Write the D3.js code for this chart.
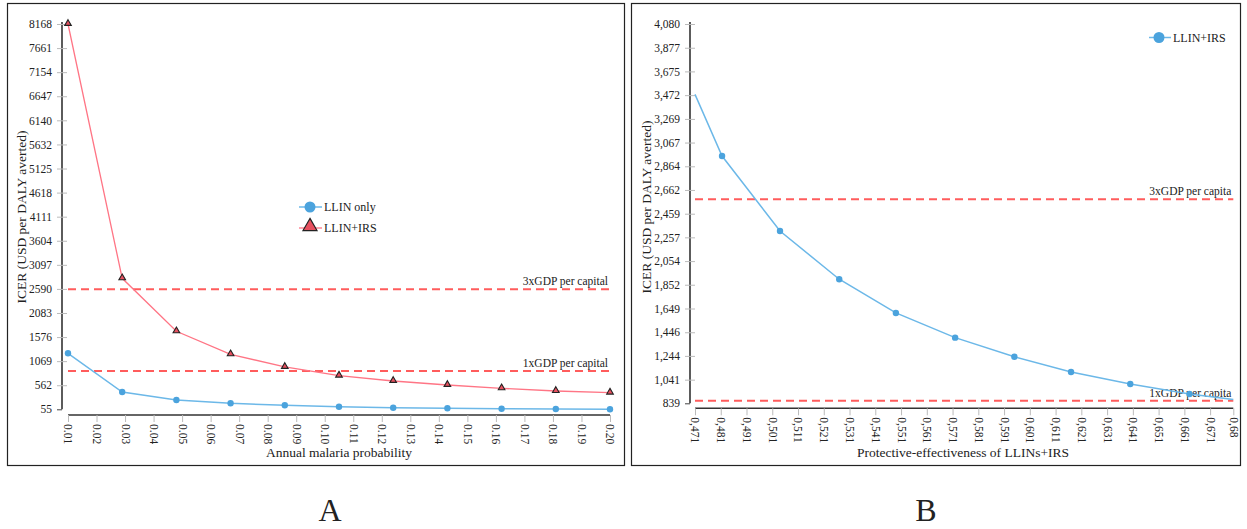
<!DOCTYPE html>
<html lang="en">
<head>
  <meta charset="UTF-8">
  <title>ICER sensitivity</title>
  <script src="https://cdn.jsdelivr.net/npm/d3@7/dist/d3.min.js"></script>
  <style>
    body { margin: 0; background: #fff; }
    text { font-family: "Liberation Serif", "DejaVu Serif", serif; fill: #222; }
  </style>
</head>
<body>
<script>
// panel A data
const probA = [0.01, 0.029, 0.048, 0.067, 0.086, 0.105, 0.124, 0.143, 0.162, 0.181, 0.2];
const llinOnly = [1234, 419, 251, 181, 139, 110, 89, 76, 68, 61, 57];
const llinIrsA = [8168, 2813, 1697, 1213, 946, 763, 651, 567, 497, 440, 405];
const yTicksA = [55, 562, 1069, 1576, 2083, 2590, 3097, 3604, 4111, 4618, 5125, 5632, 6140, 6647, 7154, 7661, 8168];
const xTicksA = [0.01, 0.02, 0.03, 0.04, 0.05, 0.06, 0.07, 0.08, 0.09, 0.10, 0.11, 0.12, 0.13, 0.14, 0.15, 0.16, 0.17, 0.18, 0.19, 0.20];

// panel B data
const effB = [0.471, 0.4815, 0.504, 0.527, 0.549, 0.572, 0.595, 0.617, 0.640, 0.663, 0.68];
const llinIrsB = [3479, 2952, 2311, 1899, 1611, 1400, 1237, 1106, 1004, 918, 872];
const yTicksB = [839, 1041, 1244, 1446, 1649, 1852, 2054, 2257, 2459, 2662, 2864, 3067, 3269, 3472, 3675, 3877, 4080];
const xTicksB = [0.471, 0.481, 0.491, 0.501, 0.511, 0.521, 0.531, 0.541, 0.551, 0.561, 0.571, 0.581, 0.591, 0.601, 0.611, 0.621, 0.631, 0.641, 0.651, 0.661, 0.671, 0.68];

// thresholds
const gdp1x = 861, gdp3x = 2583;

const blue = '#4ba3dd', blueLine = '#6cb8e8', red = '#ff7585', redFill = '#e8505f', dash = '#ff5c5c';

const svg = d3.select('body').append('svg')
  .attr('width', 1247).attr('height', 529);

// frames
svg.append('rect').attr('x', 7.5).attr('y', 3.5).attr('width', 617).attr('height', 462)
  .attr('fill', 'none').attr('stroke', '#222').attr('stroke-width', 1.2);
svg.append('rect').attr('x', 631.5).attr('y', 3.5).attr('width', 609).attr('height', 462)
  .attr('fill', 'none').attr('stroke', '#222').attr('stroke-width', 1.2);

function axes(x, y, xTicks, yTicks, xFmt, yFmt, x0, y0) {
  // y axis, offset left of plot area
  const ya = svg.append('g').attr('transform', `translate(${x0},0)`)
    .call(d3.axisLeft(y).tickValues(yTicks).tickFormat(yFmt).tickSize(5).tickPadding(5));
  ya.select('.domain').attr('stroke', '#333').attr('stroke-width', 1.6)
    .attr('d', `M0,${y.range()[1] - 2}V${y.range()[0]}`);
  ya.selectAll('.tick line').attr('x1', -5).attr('x2', 5).attr('stroke', '#bbb');
  ya.selectAll('.tick line').filter((d, i) => i === 0).attr('stroke', '#444').attr('x2', 0);
  ya.selectAll('.tick text').style('font-size', '11.5px').attr('fill', '#222')
    .style('font-family', '"Liberation Serif", serif');

  // x axis, offset below plot area
  const xa = svg.append('g').attr('transform', `translate(0,${y0})`)
    .call(d3.axisBottom(x).tickValues(xTicks).tickFormat(xFmt).tickSize(7));
  xa.select('.domain').attr('stroke', '#333').attr('stroke-width', 1.6)
    .attr('d', `M${x.range()[0]},0H${x.range()[1]}`);
  xa.selectAll('.tick line').attr('stroke', '#bbb');
  xa.selectAll('.tick text')
    .style('font-size', '11.5px').attr('fill', '#222')
    .style('font-family', '"Liberation Serif", serif')
    .attr('text-anchor', 'start').attr('dy', '0.35em')
    .attr('transform', 'translate(0,9) rotate(90)')
    .attr('x', 0).attr('y', 0);
}

function refLine(x, y, v, label) {
  svg.append('line')
    .attr('x1', x.range()[0]).attr('x2', x.range()[1])
    .attr('y1', y(v)).attr('y2', y(v))
    .attr('stroke', dash).attr('stroke-width', 2).attr('stroke-dasharray', '8,5');
  svg.append('text').attr('x', x.range()[1] - 2).attr('y', y(v) - 4)
    .attr('text-anchor', 'end').style('font-size', '11.5px').text(label);
}

// ---------- panel A ----------
const xA = d3.scaleLinear().domain([0.01, 0.2]).range([68, 610]);
const yA = d3.scaleLinear().domain([55, 8168]).range([409.3, 24]);
axes(xA, yA, xTicksA, yTicksA, d3.format('.2f'), d3.format('d'), 62, 415);

refLine(xA, yA, gdp3x, '3xGDP per capital');
refLine(xA, yA, gdp1x, '1xGDP per capital');

const lineA = (vals) => d3.line().x((d, i) => xA(probA[i])).y(d => yA(d))(vals);
svg.append('path').attr('d', lineA(llinOnly)).attr('fill', 'none')
  .attr('stroke', blueLine).attr('stroke-width', 1.5);
svg.append('path').attr('d', lineA(llinIrsA)).attr('fill', 'none')
  .attr('stroke', red).attr('stroke-width', 1.3);

svg.selectAll('.dotA').data(llinOnly).enter().append('circle')
  .attr('cx', (d, i) => xA(probA[i])).attr('cy', d => yA(d)).attr('r', 3.2)
  .attr('fill', blue);
const tri = d3.symbol().type(d3.symbolTriangle);
svg.selectAll('.triA').data(llinIrsA).enter().append('path')
  .attr('d', tri.size(19)())
  .attr('transform', (d, i) => `translate(${xA(probA[i])},${yA(d) - 0.5})`)
  .attr('fill', redFill).attr('stroke', '#222').attr('stroke-width', 1.1);

// legend A
const legA = svg.append('g');
legA.append('line').attr('x1', 299).attr('x2', 322).attr('y1', 207).attr('y2', 207)
  .attr('stroke', blueLine).attr('stroke-width', 1.5);
legA.append('circle').attr('cx', 310).attr('cy', 207).attr('r', 5.5).attr('fill', blue);
legA.append('text').attr('x', 324).attr('y', 211).style('font-size', '12px').text('LLIN only');
legA.append('line').attr('x1', 299).attr('x2', 322).attr('y1', 228).attr('y2', 228)
  .attr('stroke', red).attr('stroke-width', 1.3);
legA.append('path').attr('d', tri.size(85)())
  .attr('transform', 'translate(310,226.5)')
  .attr('fill', redFill).attr('stroke', '#222').attr('stroke-width', 1.2);
legA.append('text').attr('x', 324).attr('y', 232).style('font-size', '12px').text('LLIN+IRS');

svg.append('text').attr('transform', 'translate(26,217) rotate(-90)')
  .attr('text-anchor', 'middle').style('font-size', '13.5px').text('ICER (USD per DALY averted)');
svg.append('text').attr('x', 339).attr('y', 457)
  .attr('text-anchor', 'middle').style('font-size', '13.5px').text('Annual malaria probability');

// ---------- panel B ----------
const xB = d3.scaleLinear().domain([0.471, 0.68]).range([695, 1233.3]);
const yB = d3.scaleLinear().domain([839, 4080]).range([403.3, 24]);
const commaFmt = d => String(d).replace('.', ',');
axes(xB, yB, xTicksB, yTicksB, commaFmt, d3.format(','), 690, 408.3);

refLine(xB, yB, gdp3x, '3xGDP per capita');
refLine(xB, yB, gdp1x, '1xGDP per capita');

svg.append('path')
  .attr('d', d3.line().x((d, i) => xB(effB[i])).y(d => yB(d))(llinIrsB))
  .attr('fill', 'none').attr('stroke', blueLine).attr('stroke-width', 1.5);
// first and last values sit on the axis bounds and carry no marker
svg.selectAll('.dotB').data(llinIrsB.slice(1, -1)).enter().append('circle')
  .attr('cx', (d, i) => xB(effB[i + 1])).attr('cy', d => yB(d)).attr('r', 3.2)
  .attr('fill', blue);

const legB = svg.append('g');
legB.append('line').attr('x1', 1149).attr('x2', 1171).attr('y1', 37.5).attr('y2', 37.5)
  .attr('stroke', blueLine).attr('stroke-width', 1.5);
legB.append('circle').attr('cx', 1159).attr('cy', 37.5).attr('r', 5.5).attr('fill', blue);
legB.append('text').attr('x', 1173).attr('y', 41.5).style('font-size', '12px').text('LLIN+IRS');

svg.append('text').attr('transform', 'translate(651,207) rotate(-90)')
  .attr('text-anchor', 'middle').style('font-size', '13.5px').text('ICER (USD per DALY averted)');
svg.append('text').attr('x', 963).attr('y', 457)
  .attr('text-anchor', 'middle').style('font-size', '13.5px').text('Protective-effectiveness of LLINs+IRS');

// panel letters
svg.append('text').attr('x', 330).attr('y', 521).attr('text-anchor', 'middle')
  .style('font-size', '32px').text('A');
svg.append('text').attr('x', 926).attr('y', 521).attr('text-anchor', 'middle')
  .style('font-size', '32px').text('B');
</script>
</body>
</html>
